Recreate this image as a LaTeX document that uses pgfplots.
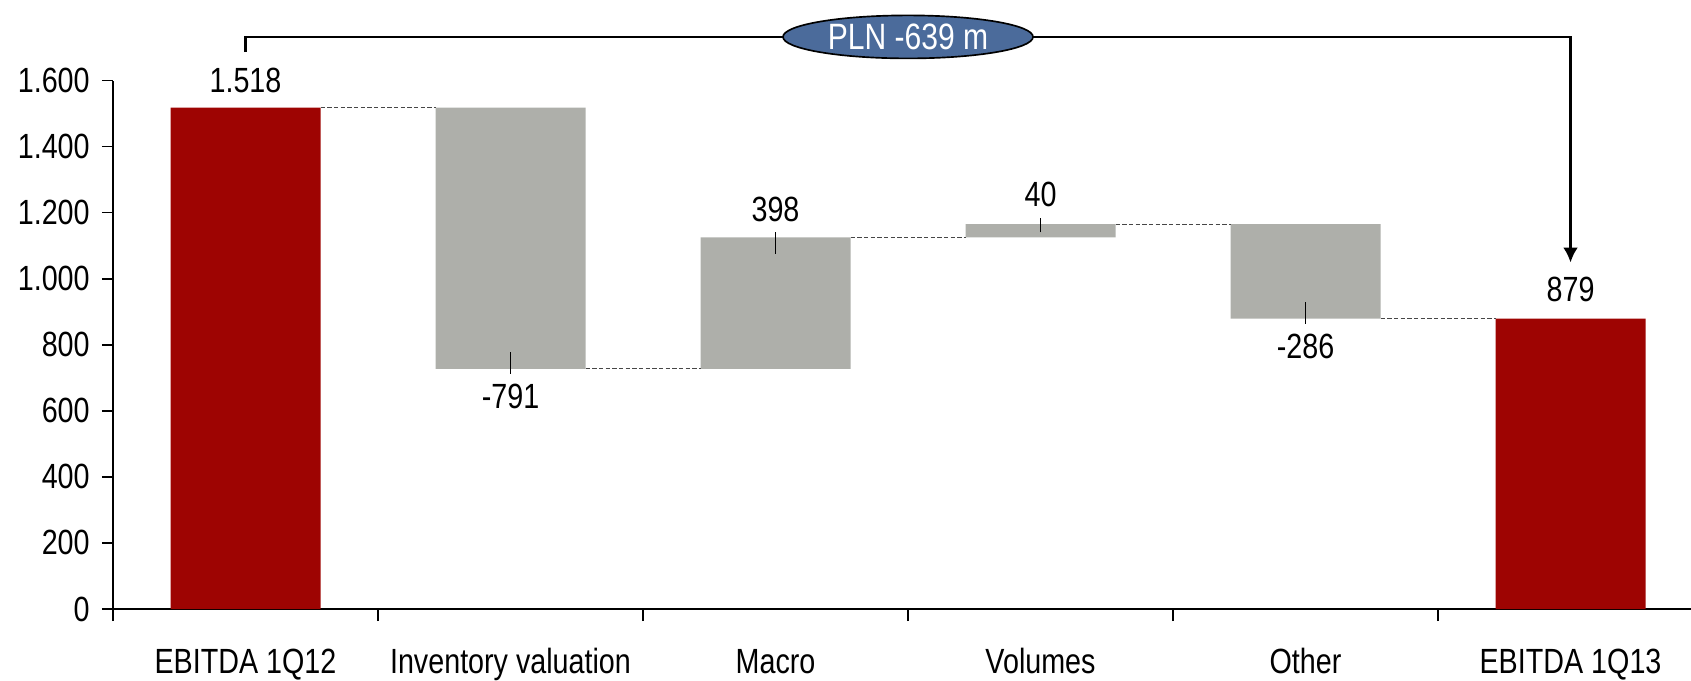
\documentclass[border=0pt]{standalone}
\usepackage{fontspec}
\setmainfont{Liberation Sans}[FakeStretch=0.82]
\usepackage{pgfplots}
\usepackage{pgfplotstable}
\pgfplotsset{compat=1.18}
\usetikzlibrary{arrows.meta,shapes.geometric}

\definecolor{barred}{RGB}{158,4,2}
\definecolor{bargrey}{RGB}{174,175,170}
\definecolor{ovalblue}{RGB}{75,107,155}
\definecolor{dashgrey}{RGB}{70,70,70}

% waterfall: invisible base + visible part
\pgfplotstableread{
x base total delta
0 0    1518 0
1 727  0    791
2 727  0    398
3 1125 0    40
4 879  0    286
5 0    879  0
}\wf

\pgfplotsset{
  wfaxis/.style={
    scale only axis, width=477pt, height=158.55pt,
    xmin=-0.5, xmax=5.5, ymin=0, ymax=1600,
    clip=false,
    font=\fontsize{10.5}{12}\selectfont,
  },
  conn/.style={dashgrey, line width=0.35pt, dash pattern=on 1.3pt off 0.7pt},
  lbltick/.style={black, line width=0.5pt},
}

\begin{document}
\begin{tikzpicture}
\begin{axis}[
    wfaxis,
    ybar stacked, bar width=45pt,
    axis x line*=bottom, axis y line*=left,
    axis line style={-, line width=0.5pt},
    ytick={0,200,...,1600},
    yticklabels={0,200,400,600,800,1.000,1.200,1.400,1.600},
    yticklabel style={anchor=east, inner sep=0pt, xshift=-3.5pt},
    xtick={0,...,5},
    xticklabels={EBITDA 1Q12, Inventory valuation, Macro, Volumes, Other, EBITDA 1Q13},
    xticklabel style={anchor=base, inner sep=0pt, yshift=-16pt},
    major x tick style={draw=none},
    minor xtick={-0.5,0.5,1.5,2.5,3.5,4.5,5.5},
    minor tick length=3.6pt,
    major tick length=3.3pt,
    tick align=outside,
    tick style={black, line width=0.5pt},
]
\addplot[draw=none, fill=none] table[x=x, y=base] {\wf};
\addplot[draw=none, fill=barred] table[x=x, y=total] {\wf};
\addplot[draw=none, fill=bargrey] table[x=x, y=delta] {\wf};
\coordinate (O) at (axis cs:-0.5,0);
\end{axis}

\begin{axis}[wfaxis, hide axis]
% connectors between bars
\addplot[conn] coordinates {(0.283,1518) (0.717,1518)};
\addplot[conn] coordinates {(1.283,727) (1.717,727)};
\addplot[conn] coordinates {(2.283,1125) (2.717,1125)};
\addplot[conn] coordinates {(3.283,1165) (3.717,1165)};
\addplot[conn] coordinates {(4.283,879) (4.717,879)};
% small leader ticks at labels
\addplot[lbltick] coordinates {(1,777) (1,711)};
\addplot[lbltick] coordinates {(2,1075) (2,1141)};
\addplot[lbltick] coordinates {(3,1140) (3,1185)};
\addplot[lbltick] coordinates {(4,929) (4,863)};
% value labels
\node[anchor=base, inner sep=0pt, yshift=4.5pt] at (axis cs:0,1518) {1.518};
\node[anchor=north, inner sep=0pt, yshift=-2.7pt] at (axis cs:1,711) {-791};
\node[anchor=base, inner sep=0pt, yshift=3.2pt] at (axis cs:2,1141) {398};
\node[anchor=base, inner sep=0pt, yshift=3.2pt] at (axis cs:3,1185) {40};
\node[anchor=north, inner sep=0pt, yshift=-2.7pt] at (axis cs:4,863) {-286};
\node[anchor=base, inner sep=0pt, yshift=5pt] at (axis cs:5,879) {879};
% bracket with total change
\draw[line width=0.8pt, line join=miter, -{Latex[length=4.5pt,width=4.5pt]}]
  (axis cs:0,1686) |- (axis cs:5,1732) -- (axis cs:5,1049);
\node[ellipse, draw=black, line width=0.5pt, fill=ovalblue, text=white,
      minimum width=75pt, minimum height=12.9pt, inner sep=0pt,
      font=\fontsize{11}{12}\selectfont] at (axis cs:2.5,1732) {PLN -639 m};
\end{axis}
\pgfresetboundingbox
\path (O) ++(-33.9pt,-21.3pt) rectangle ++(507.3pt,204pt);
\end{tikzpicture}
\end{document}
